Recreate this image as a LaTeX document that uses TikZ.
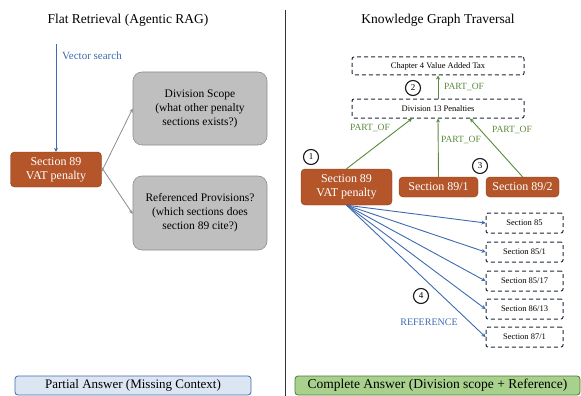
\documentclass[tikz,border=0pt]{standalone}
\usepackage{fontspec}
\setmainfont{Liberation Serif}
\usetikzlibrary{arrows.meta}
\definecolor{orng}{HTML}{B4552A}
\definecolor{orngd}{HTML}{8A3A18}
\definecolor{grayf}{HTML}{BFBFBF}
\definecolor{grayd}{HTML}{8C8C8C}
\definecolor{grn}{HTML}{5A8A3C}
\definecolor{grnl}{HTML}{A9D18E}
\definecolor{grnd}{HTML}{4E7A30}
\definecolor{blu}{HTML}{3E6BAF}
\definecolor{blul}{HTML}{DCE6F2}
\definecolor{navy}{HTML}{1F2A3A}
\tikzset{
  secbox/.style={draw=orngd, fill=orng, rounded corners=4pt, text=white, font=\fontsize{12}{14}\selectfont, align=center, inner sep=0pt},
  qbox/.style={draw=grayd, fill=grayf, rounded corners=9pt, font=\fontsize{11.5}{14}\selectfont, align=center, inner sep=0pt, line width=0.6pt},
  dbox/.style={draw=navy, dashed, dash pattern=on 4pt off 3pt, rounded corners=2pt, font=\fontsize{8.5}{10}\selectfont, inner sep=0pt, line width=1pt},
  num/.style={draw=black!90, circle, line width=1.1pt, minimum size=15pt, inner sep=0pt, font=\fontsize{9}{10}\selectfont},
  ttl/.style={font=\fontsize{13.5}{15}\selectfont},
  garr/.style={draw=grn, line width=0.9pt, -{Stealth[length=4pt,width=4pt]}},
  barr/.style={draw=blu, line width=0.9pt, -{Stealth[length=4pt,width=4pt]}},
  grarr/.style={draw=grayd, line width=0.8pt, -{Stealth[length=4pt,width=3.5pt]}},
  glbl/.style={text=grn, font=\fontsize{9.5}{10}\selectfont, inner sep=0pt},
}
\begin{document}
\begin{tikzpicture}[x=1pt,y=-1pt]
\useasboundingbox (0,0) rectangle (581,396);
% divider
\draw[line width=1pt, black!80] (285,10) -- (285,396);
% titles
\node[ttl] (t1) at (128,20) {Flat Retrieval (Agentic RAG)};
\node[ttl] (t2) at (438,20) {Knowledge Graph Traversal};
% left
\coordinate (vs) at (56,44);
\node[secbox, minimum width=91pt, minimum height=35pt] (s89l) at (56,169.5) {Section 89\\VAT penalty};
\draw[barr] (vs) -- (s89l.north);
\node[text=blu, font=\fontsize{11}{12}\selectfont, anchor=west, inner sep=0pt] (vsl) at (62,56) {Vector search};
\node[qbox, minimum width=134pt, minimum height=73pt] (ds) at (200,108.5) {Division Scope\\(what other penalty\\sections exists?)};
\node[qbox, minimum width=134pt, minimum height=74pt] (rp) at (200,213) {Referenced Provisions?\\(which sections does\\section 89 cite?)};
\draw[grarr] ([yshift=-2pt]s89l.east) -- (ds.west);
\draw[grarr] ([yshift=2pt]s89l.east) -- ([yshift=-1pt]rp.west);
\node[draw=blu, fill=blul, rounded corners=3pt, line width=0.8pt, minimum width=236pt, minimum height=19pt, inner sep=0pt, font=\fontsize{13}{14}\selectfont] (pa) at (133,385.5) {Partial Answer (Missing Context)};
% right
\node[dbox, minimum width=172pt, minimum height=18pt] (ch4) at (438,66) {Chapter 4 Value Added Tax};
\node[dbox, minimum width=172pt, minimum height=19pt] (d13) at (438,108.5) {Division 13 Penalties};
\node[secbox, minimum width=91pt, minimum height=36pt] (s89r) at (346.5,187) {Section 89\\VAT penalty};
\node[secbox, minimum width=79pt, minimum height=20pt] (s891) at (438.5,187) {Section 89/1};
\node[secbox, minimum width=73pt, minimum height=20pt] (s892) at (522.5,187) {Section 89/2};
\draw[garr] (d13.north) -- (ch4.south);
\node[glbl, anchor=west] (l0) at (444,87) {PART\_OF};
\draw[garr] (s89r.north) -- ([xshift=-26pt]d13.south);
\node[glbl] (l1) at (370,128) {PART\_OF};
\draw[garr] (s891.north) -- (d13.south);
\node[glbl] (l2) at (461,140) {PART\_OF};
\draw[garr] (s892.north) -- ([xshift=32pt]d13.south);
\node[glbl] (l3) at (512,130) {PART\_OF};
\node[num] (n1) at (311,157) {1};
\node[num] (n2) at (413,88) {2};
\node[num] (n3) at (480,166) {3};
\foreach \i/\t/\y in {a/85/223, b/85\slash 1/252, c/85\slash 17/281, d/86\slash 13/309, e/87\slash 1/337}{
  \node[dbox, minimum width=77pt, minimum height=20pt] (r\i) at (524.5,\y) {Section \t};
  \draw[barr] ([xshift=0pt]s89r.south) -- (r\i.west);
}
\node[num] (n4) at (421,296) {4};
\node[text=blu, font=\fontsize{10}{10}\selectfont, inner sep=0pt] (rl) at (429,322) {REFERENCE};
\node[draw=grnd, fill=grnl, rounded corners=3pt, line width=0.8pt, minimum width=285pt, minimum height=19pt, inner sep=0pt, font=\fontsize{13.5}{14}\selectfont] (ca) at (437.5,385.5) {Complete Answer (Division scope + Reference)};
\end{tikzpicture}
\end{document}
